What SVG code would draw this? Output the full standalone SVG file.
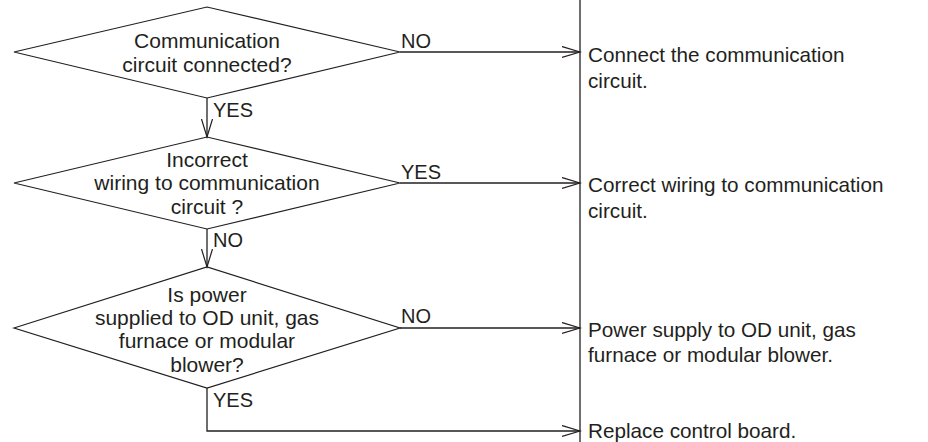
<svg xmlns="http://www.w3.org/2000/svg" width="928" height="442" viewBox="0 0 928 442">
<style>
.d{fill:none;stroke:#231f20;stroke-width:1.2}
.c{fill:none;stroke:#231f20;stroke-width:1.3}
.t{font-family:"Liberation Sans",Arial,sans-serif;fill:#231f20}
.dt{font-size:21px;text-anchor:middle}
.rt{font-size:20.7px}
.lb{font-size:20px}
</style>
<defs>
<marker id="ah" markerUnits="userSpaceOnUse" markerWidth="20" markerHeight="14" refX="18" refY="6" orient="auto">
<path d="M0,0.5 L18,6 L0,11.5" fill="none" stroke="#231f20" stroke-width="1.2"/>
</marker>
</defs>
<rect width="928" height="442" fill="#ffffff"/>
<g id="d1">
<polygon class="d" points="14,52 207,7 400,52 207,98"/>
<text class="t dt" x="207" y="48">Communication</text>
<text class="t dt" x="207" y="72">circuit connected?</text>
</g>
<g id="d2">
<polygon class="d" points="14,183 207,137 400,183 207,229"/>
<text class="t dt" x="207" y="167">Incorrect</text>
<text class="t dt" x="207" y="190">wiring to communication</text>
<text class="t dt" x="207" y="214">circuit ?</text>
</g>
<g id="d3">
<polygon class="d" points="14,328 207,267 400,328 207,388"/>
<text class="t dt" x="207" y="302">Is power</text>
<text class="t dt" x="207" y="325">supplied to OD unit, gas</text>
<text class="t dt" x="207" y="348">furnace or modular</text>
<text class="t dt" x="207" y="372">blower?</text>
</g>
<g id="r1">
<text class="t rt" x="588" y="62">Connect the communication</text>
<text class="t rt" x="588" y="88">circuit.</text>
</g>
<g id="r2">
<text class="t rt" x="588" y="192">Correct wiring to communication</text>
<text class="t rt" x="588" y="218">circuit.</text>
</g>
<g id="r3">
<text class="t rt" x="588" y="337">Power supply to OD unit, gas</text>
<text class="t rt" x="588" y="362">furnace or modular blower.</text>
</g>
<g id="r4">
<text class="t rt" x="588" y="438">Replace control board.</text>
</g>
<g id="connectors">
<line class="c" x1="580" y1="0" x2="580" y2="442"/>
<line class="c" x1="400" y1="52" x2="580" y2="52" marker-end="url(#ah)"/>
<line class="c" x1="207" y1="98" x2="207" y2="137" marker-end="url(#ah)"/>
<line class="c" x1="400" y1="183" x2="580" y2="183" marker-end="url(#ah)"/>
<line class="c" x1="207" y1="229" x2="207" y2="267" marker-end="url(#ah)"/>
<line class="c" x1="400" y1="328" x2="580" y2="328" marker-end="url(#ah)"/>
<polyline class="c" points="207,388 207,431 580,431" marker-end="url(#ah)"/>
<text class="t lb" x="401" y="48">NO</text>
<text class="t lb" x="213" y="117">YES</text>
<text class="t lb" x="401" y="179">YES</text>
<text class="t lb" x="213" y="247">NO</text>
<text class="t lb" x="401" y="323">NO</text>
<text class="t lb" x="213" y="407">YES</text>
</g>
</svg>
